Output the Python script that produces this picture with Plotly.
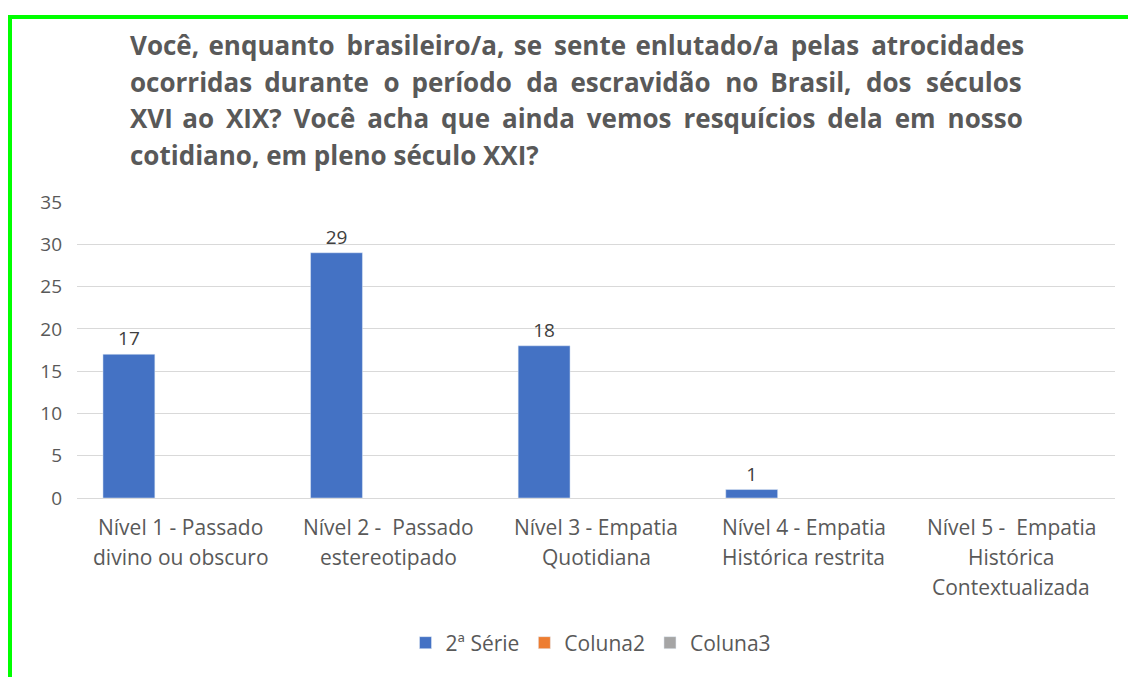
import plotly.graph_objects as go

categories = [
    "Nível 1 - Passado\ndivino ou obscuro",
    "Nível 2 -  Passado\nestereotipado",
    "Nível 3 - Empatia\nQuotidiana",
    "Nível 4 - Empatia\nHistórica restrita",
    "Nível 5 -  Empatia\nHistórica\nContextualizada",
]
serie_2 = [17, 29, 18, 1, None]
coluna2 = [None, None, None, None, None]
coluna3 = [None, None, None, None, None]
series_names = ["2ª Série", "Coluna2", "Coluna3"]
colors = ["#4472C4", "#ED7D31", "#A5A5A5"]
title_lines = [
    "Você, enquanto brasileiro/a, se sente enlutado/a pelas atrocidades",
    "ocorridas durante o período da escravidão no Brasil, dos séculos",
    "XVI ao XIX? Você acha que ainda vemos resquícios dela em nosso",
    "cotidiano, em pleno século XXI?",
]
y_ticks = [0, 5, 10, 15, 20, 25, 30, 35]

W, H = 1128, 677
L, R, T, B = 77, 13, 202, 179
PW, PH = W - L - R, H - T - B


def px_x(px):
    return (px - L) / PW


def px_y(py):
    return (H - B - py) / PH


FONT = "Open Sans, Noto Sans, sans-serif"
keys = [c.replace("\n", " ") for c in categories]

# title justification (lines 1-3 justified to a fixed width, last line left)
TITLE_SIZE = 26
natural_w25 = [834, 802, 807]  # rendered widths at 25px
target_w = 895
hair_w = 0.1 * TITLE_SIZE  # hair space width


def justify(line, natural):
    words = line.split(" ")
    gaps = len(words) - 1
    extra = max(0, round((target_w - natural) / hair_w))
    out = words[0]
    for g in range(gaps):
        n = extra * (g + 1) // gaps - extra * g // gaps
        out += " " + "\u200a" * n + words[g + 1]
    return out


title_text = []
for i, line in enumerate(title_lines):
    if i < 3:
        title_text.append(justify(line, natural_w25[i] * TITLE_SIZE / 25))
    else:
        title_text.append(line)

fig = go.Figure()
for name, vals, col in zip(series_names, [serie_2, coluna2, coluna3], colors):
    fig.add_trace(go.Bar(
        x=keys, y=vals, name=name, marker_color=col,
        text=[("" if v is None else str(v)) for v in vals],
        textposition="outside", cliponaxis=False,
        textfont=dict(family=FONT, size=19, color="#404040"),
    ))

annotations = []
for i, line in enumerate(title_text):
    annotations.append(dict(
        text=line, xref="paper", yref="paper",
        x=px_x(128), y=px_y(45 + i * 36.7), xanchor="left", yanchor="middle",
        showarrow=False, font=dict(family=FONT, size=TITLE_SIZE, color="#595959", weight="bold"),
    ))
for k, c in zip(keys, categories):
    for j, part in enumerate(c.split("\n")):
        annotations.append(dict(
            text=part, xref="x", yref="paper", x=k, y=0,
            yshift=-(29 + 30 * j), xanchor="center", yanchor="middle",
            showarrow=False, font=dict(family=FONT, size=21, color="#595959"),
        ))

shapes = [
    dict(type="line", xref="paper", yref="paper", x0=px_x(8), x1=px_x(1128),
         y0=px_y(17), y1=px_y(17), line=dict(color="#00FF00", width=4)),
    dict(type="line", xref="paper", yref="paper", x0=px_x(10), x1=px_x(10),
         y0=px_y(15), y1=px_y(677), line=dict(color="#00FF00", width=4)),
]

fig.update_layout(
    width=W, height=H,
    margin=dict(l=L, r=R, t=T, b=B),
    paper_bgcolor="white", plot_bgcolor="white",
    barmode="group", bargap=0.25, bargroupgap=0,
    showlegend=True,
    legend=dict(orientation="h", x=px_x(591), y=px_y(643), xanchor="center", yanchor="middle",
                font=dict(family=FONT, size=21, color="#595959"),
                traceorder="normal"),
    annotations=annotations,
    shapes=shapes,
    font=dict(family=FONT, color="#595959"),
)
fig.update_xaxes(showticklabels=False, showgrid=False, showline=True,
                 linecolor="#D9D9D9", linewidth=1, ticks="")
fig.update_yaxes(range=[0, 35], tickvals=y_ticks, showgrid=True, gridcolor="#D9D9D9",
                 gridwidth=1, zeroline=False, showline=False, ticks="",
                 tickfont=dict(family=FONT, size=19, color="#595959"), ticklabelstandoff=14)

fig.write_html("out.html", config={"displayModeBar": False},
               post_script="document.body.style.margin='0';")
